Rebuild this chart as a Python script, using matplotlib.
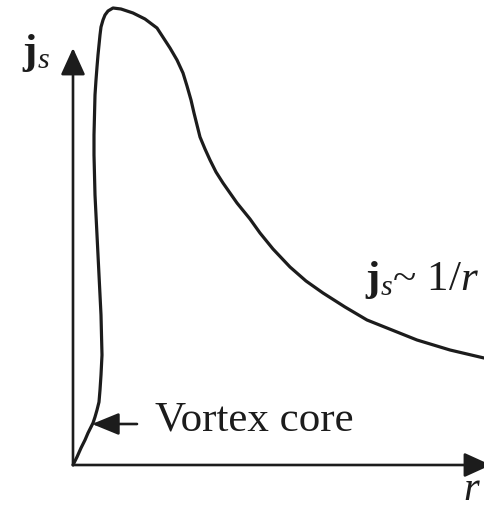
import matplotlib
matplotlib.use("Agg")
import matplotlib.pyplot as plt

# current density profile around a vortex line (sketch units)
r_vals = [0, 4, 8, 12, 15, 18, 20, 22, 24, 26, 27, 28, 29, 28.5, 28, 27, 26, 25, 24, 23,
          22, 21.5, 21, 21, 21.5, 22, 23, 24, 25, 26, 27, 28, 30, 32, 35, 40, 48, 60, 72,
          84, 97, 104, 110, 114, 118, 121, 124, 127, 132, 137, 143, 150, 157, 164, 177,
          187, 200, 217, 233, 250, 272, 294, 319, 344, 377, 411]
js_vals = [0, 8, 17, 25, 32, 38, 42, 48, 55, 63, 75, 90, 110, 130, 150, 170, 190, 210, 230,
           250, 270, 290, 310, 330, 350, 370, 385, 398, 410, 420, 430, 438, 445, 450, 454,
           457, 456, 452, 446, 437, 417, 405, 392, 379, 365, 352, 340, 328, 316, 305, 293,
           282, 272, 262, 246, 232, 216, 198, 184, 172, 158, 145, 135, 125, 115, 107]

ink = "#1c1c1c"

plt.rcParams["font.family"] = ["Liberation Serif", "DejaVu Serif"]
plt.rcParams["mathtext.fontset"] = "custom"
plt.rcParams["mathtext.rm"] = "Liberation Serif"
plt.rcParams["mathtext.it"] = "Liberation Serif:italic"
plt.rcParams["mathtext.bf"] = "Liberation Serif:bold"

fig = plt.figure(figsize=(4.84, 5.08), dpi=100)
ax = fig.add_axes([0, 0, 1, 1])
ax.set_xlim(-73, 411)
ax.set_ylim(-43, 465)
ax.axis("off")

# axes with arrow heads
axis_arrow = dict(arrowstyle="-|>,head_length=1.1,head_width=0.5", lw=1.9, color=ink,
                  mutation_scale=15, shrinkA=0, shrinkB=0)
ax.annotate("", xy=(0, 417), xytext=(0, 0), arrowprops=axis_arrow, annotation_clip=False)
ax.annotate("", xy=(418, 0), xytext=(0, 0), arrowprops=axis_arrow, annotation_clip=False)

# j_s(r) curve
ax.plot(r_vals, js_vals, color=ink, lw=2.3, solid_capstyle="round", solid_joinstyle="round")

# labels
ax.text(-37, 412, r"$\mathbf{j}_{\mathit{s}}$", fontsize=31, color=ink, ha="center", va="center")
ax.text(292, 185, r"$\mathbf{j}_{\mathit{s}}$~ 1/$\mathit{r}$", fontsize=31, color=ink,
        ha="left", va="center")
ax.text(390, -26, r"$\mathit{r}$", fontsize=29, color=ink, ha="left", va="center")

ax.annotate("", xy=(19, 41), xytext=(64, 41),
            arrowprops=dict(arrowstyle="-|>,head_length=1.1,head_width=0.45", lw=1.9,
                            color=ink, mutation_scale=15, shrinkA=0, shrinkB=0))
ax.text(82, 45, "Vortex core", fontsize=31, color=ink, ha="left", va="center")

fig.savefig("out.png", dpi=100, facecolor="white")
